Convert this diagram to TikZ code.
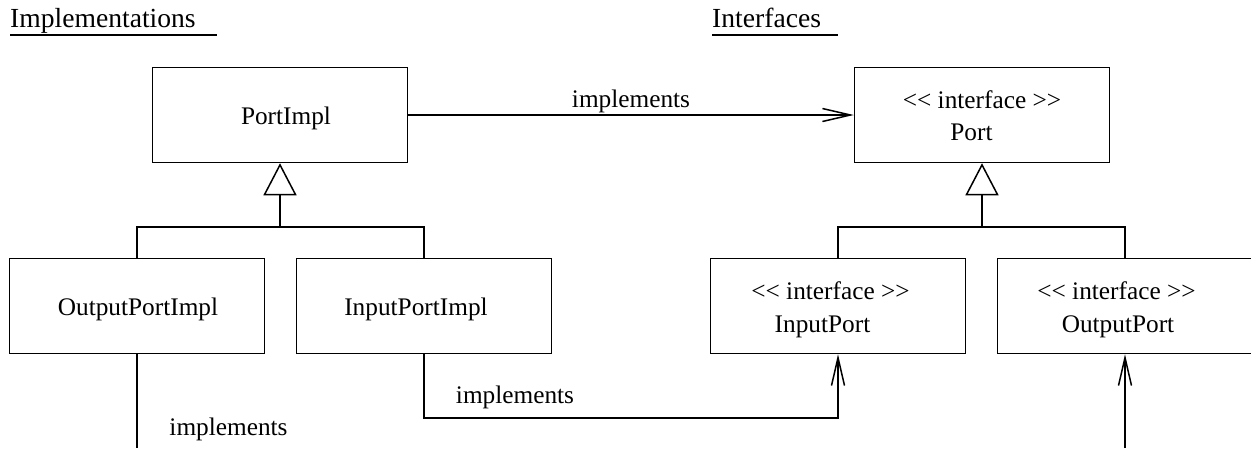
\documentclass[tikz,border=0pt]{standalone}
\usepackage{fontspec}
\setmainfont{Liberation Serif}
\usetikzlibrary{arrows.meta}

\newcommand{\stereo}{<\kern0pt< interface >\kern0pt>}

\begin{document}
\begin{tikzpicture}[x=1pt, y=-1pt,
  every node/.style={inner sep=0pt, font=\fontsize{25.3}{30}\selectfont},
  box/.style={draw, line width=1.5pt, rectangle, minimum width=255pt, minimum height=95pt},
  title/.style={anchor=base west, font=\fontsize{27.6}{32}\selectfont},
  txt/.style={anchor=base},
  conn/.style={line width=1.5pt},
  realize/.style={conn, -{Straight Barb[length=28pt, width=13pt, line width=1.5pt]}},
  gen/.style={conn, -{Triangle[open, length=32pt, width=33pt, line width=1.5pt]}}
]
\useasboundingbox (0,0) rectangle (1251,448);

% section headings
\node[title] (himpl) at (10,27.7) {Implementations};
\node[title] (hintf) at (712,27.7) {Interfaces};
\draw[line width=1.5pt] (10,35) -- (217,35);
\draw[line width=1.5pt] (712,35) -- (838,35);

% implementation classes
\node[box] (pi)  at (280,115) {};
\node[box] (opi) at (137,306) {};
\node[box] (ipi) at (424,306) {};
\node[txt] (pi-t)  at (286,124) {PortImpl};
\node[txt] (opi-t) at (138,315.7) {OutputPortImpl};
\node[txt] (ipi-t) at (416,315.7) {InputPortImpl};

% interfaces
\node[box] (port) at (982,115) {};
\node[box] (ip)   at (838,306) {};
\node[box] (op)   at (1125,306) {};
\node[txt] (port-s) at (982,108) {\stereo};
\node[txt] (port-t) at (971.5,140) {Port};
\node[txt] (ip-s) at (830.5,299) {\stereo};
\node[txt] (ip-t) at (822.5,332) {InputPort};
\node[txt] (op-s) at (1116.5,299) {\stereo};
\node[txt] (op-t) at (1118,332) {OutputPort};

% generalisation trees
\coordinate (jimpl) at (280,227);
\coordinate (jintf) at (982,227);
\draw[gen] (opi.north) |- (jimpl) -- (pi.south);
\draw[conn] (ipi.north) |- (jimpl);
\draw[gen] (ip.north) |- (jintf) -- (port.south);
\draw[conn] (op.north) |- (jintf);

% realisations
\draw[realize] (pi.east) -- node[above=8pt, anchor=base] (l1) {implements} (port.west);
\coordinate (bend) at (424,418);
\draw[realize] (ipi.south) -- (bend) -| (ip.south);
\node[txt] (l2) at (515,403) {implements};

\coordinate (oend) at (137,448);
\coordinate (pend) at (1125,448);
\draw[conn] (opi.south) -- (oend);
\node[txt] (l3) at (228.5,435) {implements};
\draw[realize] (pend) -- (op.south);
\end{tikzpicture}
\end{document}
